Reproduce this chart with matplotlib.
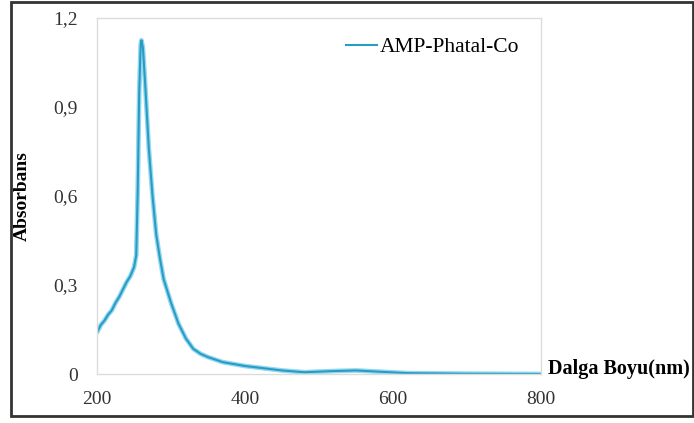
import matplotlib
matplotlib.use('Agg')
import matplotlib.pyplot as plt
from matplotlib.patches import Rectangle

#---------------------------------------------------------------
# DATA
#---------------------------------------------------------------

wavelength = [200, 205, 210, 215, 220, 225, 230, 235, 240, 245, 250, 253,
              255, 257, 259, 260, 262, 265, 270, 275, 280, 285, 290, 300,
              310, 320, 330, 340, 350, 370, 400, 450, 480, 520, 550, 580,
              620, 700, 800]
absorbans = [0.14, 0.165, 0.18, 0.20, 0.215, 0.24, 0.26, 0.285, 0.31, 0.33,
             0.36, 0.40, 0.62, 0.95, 1.11, 1.125, 1.10, 0.98, 0.76, 0.60,
             0.47, 0.39, 0.32, 0.24, 0.17, 0.12, 0.085, 0.068, 0.057, 0.04,
             0.027, 0.012, 0.006, 0.01, 0.012, 0.008, 0.003, 0.001, 0.0]

x_ticks = [200, 400, 600, 800]
y_ticks = [0, 0.3, 0.6, 0.9, 1.2]
y_ticklabels = ['0', '0,3', '0,6', '0,9', '1,2']

#---------------------------------------------------------------
# PLOT
#---------------------------------------------------------------

plt.rcParams['font.family'] = 'Liberation Serif'

fig = plt.figure(figsize=(6.94, 4.23), dpi=100)
ax = fig.add_axes([0.1398, 0.1158, 0.6398, 0.8416])

ax.plot(wavelength, absorbans, color='#93d8f0', linewidth=3.4, solid_capstyle='round')
ax.plot(wavelength, absorbans, color='#2a9cc4', linewidth=1.5, label='AMP-Phatal-Co')

ax.set_xlim(200, 800)
ax.set_ylim(0, 1.2)
ax.set_xticks(x_ticks)
ax.set_yticks(y_ticks)
ax.set_yticklabels(y_ticklabels)
ax.tick_params(length=0, labelsize=14, colors='#333333')
ax.tick_params(axis='y', pad=14)
ax.tick_params(axis='x', pad=12)

for s in ax.spines.values():
    s.set_color('#dcdcdc')
    s.set_linewidth(1.0)

fig.text(22 / 694, 1 - 196 / 423, 'Absorbans', fontweight='bold', fontsize=14,
         rotation=90, va='center', ha='center')
fig.text(548 / 694, 1 - 369 / 423, 'Dalga Boyu(nm)', fontweight='bold',
         fontsize=14.5, va='center', ha='left')

leg = ax.legend(loc='upper right', frameon=False, fontsize=15.5,
                handlelength=1.45, handletextpad=0.15, bbox_to_anchor=(0.995, 1.0))

# outer frame around the whole picture
fig.patches.append(Rectangle((11 / 694, 1 - 416 / 423), 682 / 694, 414 / 423,
                             transform=fig.transFigure, fill=False,
                             edgecolor='#333333', linewidth=2))

fig.savefig('out.png', dpi=100)
